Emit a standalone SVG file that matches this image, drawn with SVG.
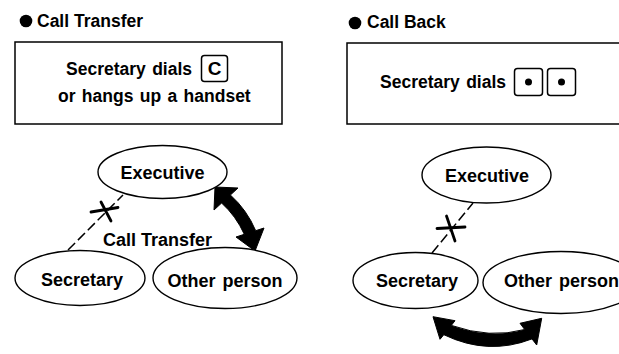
<svg xmlns="http://www.w3.org/2000/svg" width="619" height="354" viewBox="0 0 619 354">
<style>
text{font-family:"Liberation Sans",Arial,sans-serif;font-weight:bold;font-size:18px;fill:#000}
.c{text-anchor:middle}
.t{font-size:17.5px}
.box{fill:#fff;stroke:#000;stroke-width:1.5}
.key{fill:#fff;stroke:#000;stroke-width:1.5}
.node{fill:#fff;stroke:#000;stroke-width:1.4}
.dash{fill:none;stroke:#000;stroke-width:1.5;stroke-dasharray:10 4}
.x{fill:none;stroke:#000;stroke-width:2.8;stroke-linecap:round}
.arr{fill:#000;stroke:#000;stroke-width:1;stroke-linejoin:round}
</style>
<rect width="619" height="354" fill="#fff"/>

<g id="title-left">
<circle cx="26" cy="21" r="6.3"/>
<text class="t" x="37" y="27">Call Transfer</text>
</g>
<g id="box-left">
<rect class="box" x="15" y="42" width="267" height="82"/>
<text class="t" x="66" y="75" word-spacing="1.5">Secretary dials</text>
<rect class="key" x="201.5" y="55.5" width="26" height="26" rx="3"/>
<text class="c" x="214.5" y="75" style="font-size:19px">C</text>
<text class="t" x="58" y="102" word-spacing="1.5">or hangs up a handset</text>
</g>

<g id="title-right">
<circle cx="355" cy="23" r="6.3"/>
<text class="t" x="367" y="28">Call Back</text>
</g>
<g id="box-right">
<rect class="box" x="347" y="43" width="280" height="81"/>
<text class="t" x="380" y="88" word-spacing="1.5">Secretary dials</text>
<rect class="key" x="514.5" y="68.5" width="28" height="27" rx="3"/>
<circle cx="528.5" cy="82" r="3.5"/>
<rect class="key" x="547.5" y="68.5" width="28" height="27" rx="3"/>
<circle cx="561.5" cy="82" r="3.5"/>
</g>

<g id="connectors">
<line class="dash" x1="68" y1="250" x2="123" y2="195"/>
<line class="x" x1="91" y1="212" x2="118" y2="207.5"/>
<line class="x" x1="101" y1="202" x2="111" y2="221"/>
<path class="arr" d="M215,187 L238,188 L230.4,195 Q247,210 255.7,230.7 L264,228 L255,251 L236,237 L244.3,234.3 Q236,216 221.6,203 L214,210 Z"/>
<text x="103" y="246">Call Transfer</text>

<line class="dash" x1="432" y1="253" x2="473" y2="203"/>
<line class="x" x1="437" y1="228.5" x2="465" y2="227"/>
<line class="x" x1="446.5" y1="216" x2="455" y2="241"/>
<path class="arr" d="M433,316.7 L455,320.7 L451.3,325.4 Q490,339 524.7,329.5 L520,323.3 L541.7,318.3 L536.7,345 L532,338.9 Q488,356 443.8,334.7 L440,339.3 Z"/>
</g>

<g id="exec-left">
<ellipse class="node" cx="162.5" cy="172" rx="64.5" ry="26.5"/>
<text class="c" x="162.5" y="178.5">Executive</text>
</g>
<g id="secretary-left">
<ellipse class="node" cx="80" cy="278" rx="65" ry="27.5"/>
<text class="c" x="82" y="286">Secretary</text>
</g>
<g id="other-left">
<ellipse class="node" cx="225" cy="278" rx="72" ry="30.5"/>
<text class="c" x="225" y="287" word-spacing="2">Other person</text>
</g>

<g id="exec-right">
<ellipse class="node" cx="486.5" cy="175" rx="64.5" ry="28"/>
<text class="c" x="487" y="182">Executive</text>
</g>
<g id="secretary-right">
<ellipse class="node" cx="415.5" cy="280.5" rx="62.5" ry="28"/>
<text class="c" x="417" y="287">Secretary</text>
</g>
<g id="other-right">
<ellipse class="node" cx="561" cy="282.5" rx="78" ry="31"/>
<text class="c" x="561.5" y="287" word-spacing="2">Other person</text>
</g>
</svg>
